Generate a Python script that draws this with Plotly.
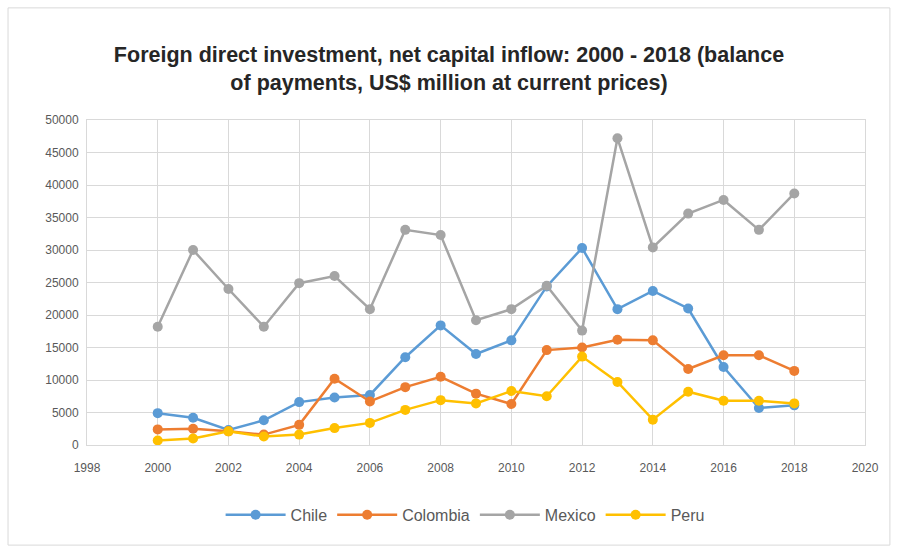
import plotly.graph_objects as go

years = list(range(2000, 2019))
chile = [4900, 4200, 2300, 3800, 6600, 7300, 7700, 13500, 18400, 14000, 16100, 24400, 30300, 20900, 23700, 21000, 12000, 5700, 6100]
colombia = [2400, 2500, 2100, 1600, 3100, 10200, 6700, 8900, 10500, 7900, 6300, 14600, 15000, 16200, 16100, 11700, 13800, 13800, 11400]
mexico = [18200, 30000, 24000, 18200, 24900, 26000, 20900, 33100, 32300, 19200, 20900, 24500, 17600, 47200, 30400, 35600, 37700, 33100, 38700]
peru = [700, 1000, 2100, 1300, 1600, 2600, 3400, 5400, 6900, 6400, 8300, 7500, 13600, 9700, 3900, 8200, 6800, 6800, 6400]

series = [("Chile", chile, "#5B9BD5"), ("Colombia", colombia, "#ED7D31"),
          ("Mexico", mexico, "#A5A5A5"), ("Peru", peru, "#FFC000")]

fig = go.Figure()
for name, vals, col in series:
    fig.add_trace(go.Scatter(x=years, y=vals, name=name, mode="lines+markers",
                             line=dict(color=col, width=2.5),
                             marker=dict(color=col, size=10)))

fig.update_layout(
    width=898, height=547,
    margin=dict(l=87, r=33, t=120, b=102),
    paper_bgcolor="white", plot_bgcolor="white",
    font=dict(family="Liberation Sans, Arial", color="#595959", size=12),
    title=dict(text="<b>Foreign direct investment, net capital inflow: 2000 - 2018 (balance<br>of payments, US$ million at current prices)</b>",
               x=0.5, xanchor="center", y=0.886, yanchor="middle",
               font=dict(family="Liberation Sans, Arial", size=21.5, color="#262626")),
    xaxis=dict(range=[1998, 2020], dtick=2, tick0=1998, showgrid=True, gridcolor="#D9D9D9",
               gridwidth=1, zeroline=False, showline=True, linecolor="#D9D9D9", mirror=True,
               ticks="", ticklabelstandoff=12, tickfont=dict(size=12, color="#595959")),
    yaxis=dict(range=[0, 50000], dtick=5000, showgrid=True, gridcolor="#D9D9D9",
               zeroline=False, showline=True, linecolor="#D9D9D9", mirror=True,
               ticks="", ticklabelstandoff=5, tickformat="d", tickfont=dict(size=12, color="#595959")),
    legend=dict(orientation="h", x=0.486, xanchor="center", y=-0.215, yanchor="middle",
                font=dict(size=16, color="#595959"), itemwidth=60),
    shapes=[dict(type="rect", xref="paper", yref="paper",
                 x0=-0.1015, x1=1.032, y0=-0.308, y1=1.345,
                 line=dict(color="#D9D9D9", width=1), layer="below")],
)

fig.write_html("out.html")
